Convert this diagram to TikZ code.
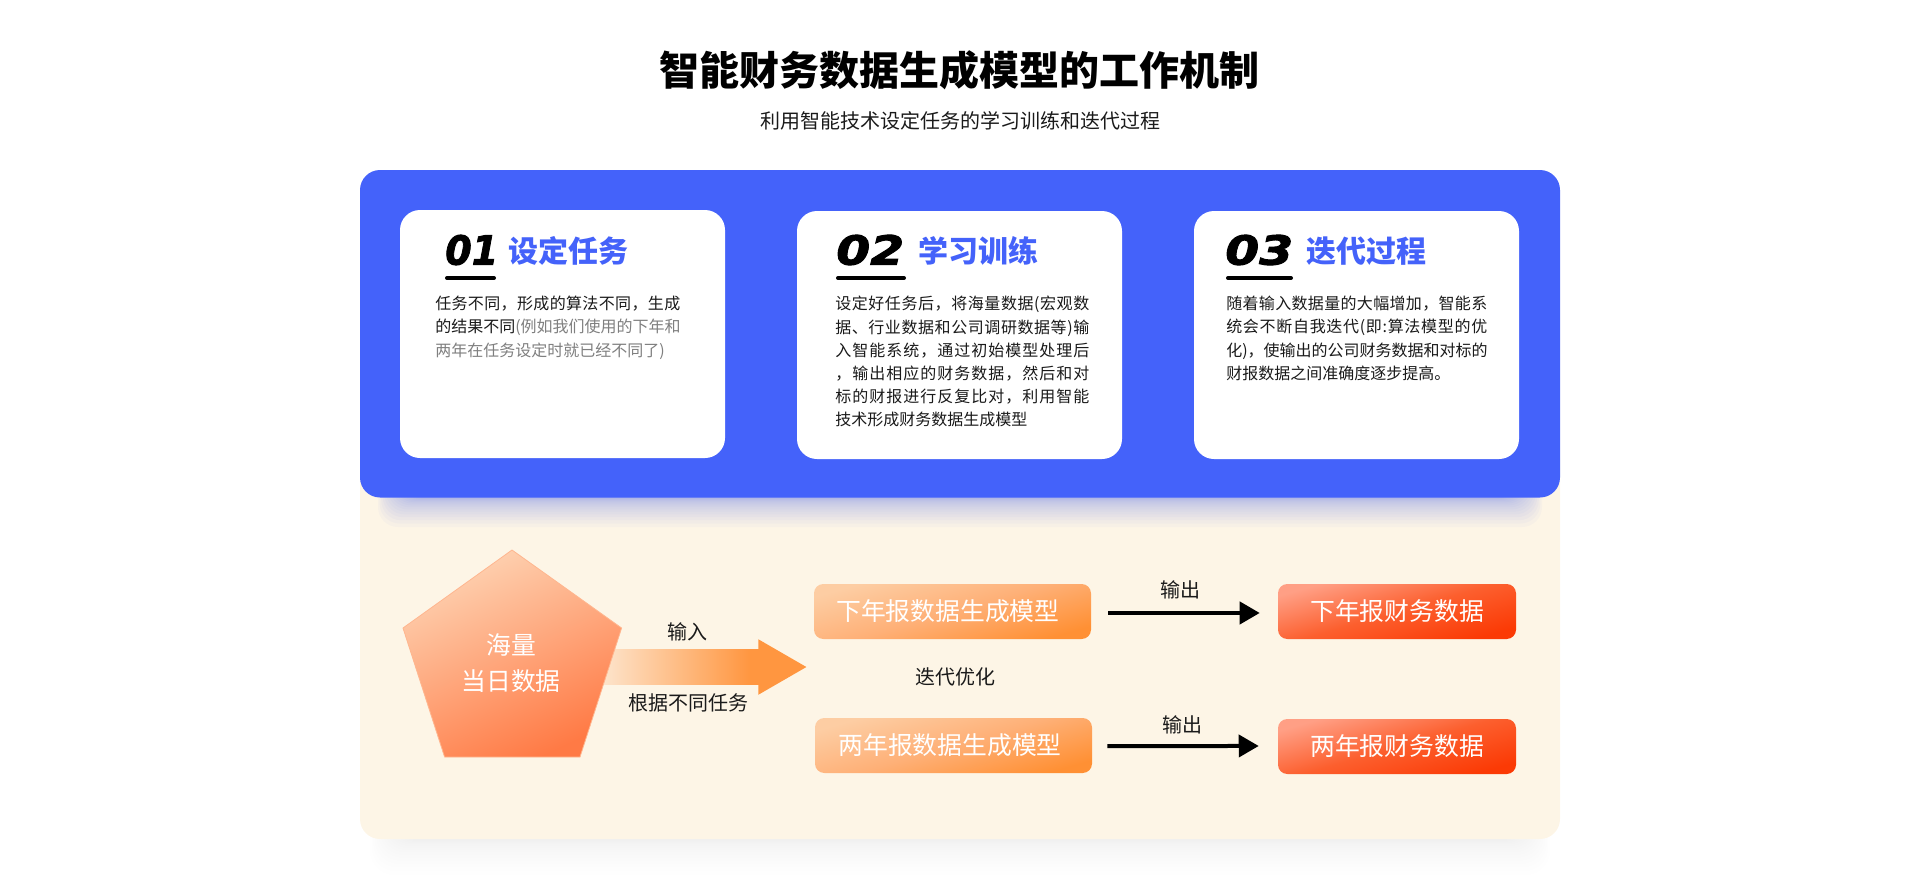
\documentclass[tikz,border=0pt]{standalone}
\usepackage{fontspec}
\usetikzlibrary{shapes.arrows,arrows.meta}
\setmainfont{Noto Sans CJK SC}
\newfontfamily\numfont[FakeStretch=1.22,FakeBold=2.5]{DejaVu Sans}
\definecolor{panelblue}{HTML}{4462FA}
\definecolor{panelcream}{HTML}{FDF5E6}
\definecolor{inktext}{HTML}{1A1A1A}
\definecolor{hinttext}{HTML}{7F7F7F}
\definecolor{flowpale}{HTML}{FDEBD8}
\definecolor{floworange}{HTML}{FF9640}
\definecolor{mdllight}{HTML}{FDCDA3}
\definecolor{mdlmid}{HTML}{FEB077}
\definecolor{mdldark}{HTML}{FF9034}
\definecolor{outlight}{HTML}{FF9F85}
\definecolor{outmid}{HTML}{FC5F2E}
\definecolor{outdark}{HTML}{FB3A05}
\definecolor{penttop}{HTML}{FED3B3}
\definecolor{pentbot}{HTML}{FF7A45}
\definecolor{pentedge}{HTML}{FFB68F}
\pgfdeclarehorizontalshading{inflowshade}{100bp}{color(0bp)=(flowpale); color(25bp)=(flowpale); color(62bp)=(floworange); color(100bp)=(floworange)}
% one printed line, spread out to the width of its card
\def\fitend{}
\def\hintcol{\color{hinttext}}
\newcommand{\fitstep}[1]{\ifx#1\fitend\unskip\else#1\hskip 0pt plus 1fil\expandafter\fitstep\fi}
\newcommand{\fitline}[2]{\makebox[#1][s]{\fitstep#2\fitend}}
\tikzset{
    card/.style={fill=white, rounded corners=15pt},
    cardhead/.style={anchor=west, inner sep=0pt, text=panelblue, font=\fontsize{22.5}{26}\selectfont\bfseries},
    cardnum/.style={anchor=west, inner sep=0pt, text=black, font=\fontsize{30}{34}\numfont\bfseries\itshape},
    cardrule/.style={line width=3pt, line cap=round, black},
    cardtext/.style={anchor=north west, inner sep=0pt, align=left, text=inktext, font=\fontsize{12}{17.4}\selectfont},
    tag/.style={inner sep=0pt, text=inktext, font=\fontsize{15}{18}\selectfont},
    mdlbox/.style={rounded corners=7pt, minimum width=207.75pt, minimum height=41.25pt, inner sep=0pt, text=white, font=\fontsize{18.6}{22}\selectfont, top color=mdllight, bottom color=mdldark, middle color=mdlmid, shading angle=16},
    outbox/.style={rounded corners=7pt, minimum width=178.5pt, minimum height=41.25pt, inner sep=0pt, text=white, font=\fontsize{18.6}{22}\selectfont, top color=outlight, bottom color=outdark, middle color=outmid, shading angle=16},
    outarrow/.style={line width=3pt, black, -{Triangle[length=15pt,width=16.5pt]}, shorten <=12.75pt, shorten >=13.5pt},
}
\begin{document}
\begin{tikzpicture}[x=0.75pt, y=-0.75pt]
    \useasboundingbox (0,0) rectangle (1920,883);
    % Title:
    \node[inner sep=0pt, text=black, font=\fontsize{30}{34}\selectfont\bfseries] (title) at (959,70) {智能财务数据生成模型的工作机制};
    \node[inner sep=0pt, text=inktext, font=\fontsize{15}{18}\selectfont] (subtitle) at (960,121) {利用智能技术设定任务的学习训练和迭代过程};
    % Panels and their shadows:
    \foreach \i in {0,...,17}
        \fill[black, opacity=0.005, rounded corners=18pt] ({370+1.6*\i},700) rectangle ({1550-1.6*\i},{839+36*(1-\i/18)*(1-\i/18)});
    \fill[panelcream, rounded corners=15pt] (360,440) rectangle (1560,839);
    \foreach \i in {0,...,15}
        \fill[panelblue, opacity=0.032, rounded corners=15pt] ({378+1.6*\i},440) rectangle ({1542-1.6*\i},{498+29*(1-\i/16)*(1-\i/16)});
    \fill[panelblue, rounded corners=15pt] (360,170) rectangle (1560,497.5);
    % Cards:
    \fill[card] (400,210) rectangle (725,458);
    \fill[card] (797,211) rectangle (1122,459);
    \fill[card] (1194,211) rectangle (1519,459);
    \node[cardnum] (numA) at (445,250) {\scalebox{.78}[1]{01}};
    \node[cardnum] (numB) at (836,250) {02};
    \node[cardnum] (numC) at (1225,250) {03};
    \node[cardhead] (headA) at (508,251) {设定任务};
    \node[cardhead] (headB) at (918,251) {学习训练};
    \node[cardhead] (headC) at (1306,251) {迭代过程};
    \draw[cardrule] (447,278) -- (494,278);
    \draw[cardrule] (838,278) -- (904,278);
    \draw[cardrule] (1228,278) -- (1291,278);
    \node[cardtext] (textA) at (435,296) {\fitline{183.75pt}{任务不同，形成的算法不同，生成}\\\fitline{183.75pt}{的结果不同\hintcol(例如我们使用的下年和}\\{\color{hinttext}两年在任务设定时就已经不同了)}};
    \node[cardtext] (textB) at (835,296) {\fitline{190.5pt}{设定好任务后，将海量数据(宏观数}\\\fitline{190.5pt}{据、行业数据和公司调研数据等)输}\\\fitline{190.5pt}{入智能系统，通过初始模型处理后}\\\fitline{190.5pt}{，输出相应的财务数据，然后和对}\\\fitline{190.5pt}{标的财报进行反复比对，利用智能}\\技术形成财务数据生成模型};
    \node[cardtext] (textC) at (1226,296) {\fitline{195.75pt}{随着输入数据量的大幅增加，智能系}\\\fitline{195.75pt}{统会不断自我迭代(即:算法模型的优}\\\fitline{195.75pt}{化)，使输出的公司财务数据和对标的}\\财报数据之间准确度逐步提高。};
    % Flow:
    \node[single arrow, shading=inflowshade, draw=none, inner sep=0pt, inner ysep=13.125pt, minimum height=162.75pt, minimum width=41.25pt, single arrow tip angle=60, single arrow head extend=7.5pt, anchor=center] (inflow) at (682.5,667) {};
    \path[draw=pentedge, line width=0.6pt, top color=penttop, bottom color=pentbot, shading angle=25] (512,550) -- (621.6,628) -- (580,757) -- (444.6,757) -- (403,628) -- cycle;
    \node[inner sep=0pt, align=center, text=white, font=\fontsize{18.6}{27}\selectfont] (source) at (511,663) {海量\\当日数据};
    \node[tag] (inA) at (687,632) {输入};
    \node[tag] (inB) at (688,703) {根据不同任务};
    \node[tag] (loop) at (955,677) {迭代优化};
    \node[mdlbox] (mdlNext) at (952.5,611.5) {\hspace*{-7pt}下年报数据生成模型};
    \node[mdlbox] (mdlTwo) at (953.5,745.5) {\hspace*{-5pt}两年报数据生成模型};
    \node[outbox] (dataNext) at (1397,611.5) {下年报财务数据};
    \node[outbox] (dataTwo) at (1397,746.5) {两年报财务数据};
    \draw[outarrow] ([yshift=-1.1pt]mdlNext.east) -- ([yshift=-1.1pt]dataNext.west);
    \draw[outarrow, shorten <=11.25pt, shorten >=14.25pt] ([yshift=-0.4pt]mdlTwo.east) -- ([yshift=0.4pt]dataTwo.west);
    \node[tag] (outA) at (1180,590) {输出};
    \node[tag] (outB) at (1182,725) {输出};
\end{tikzpicture}
\end{document}
